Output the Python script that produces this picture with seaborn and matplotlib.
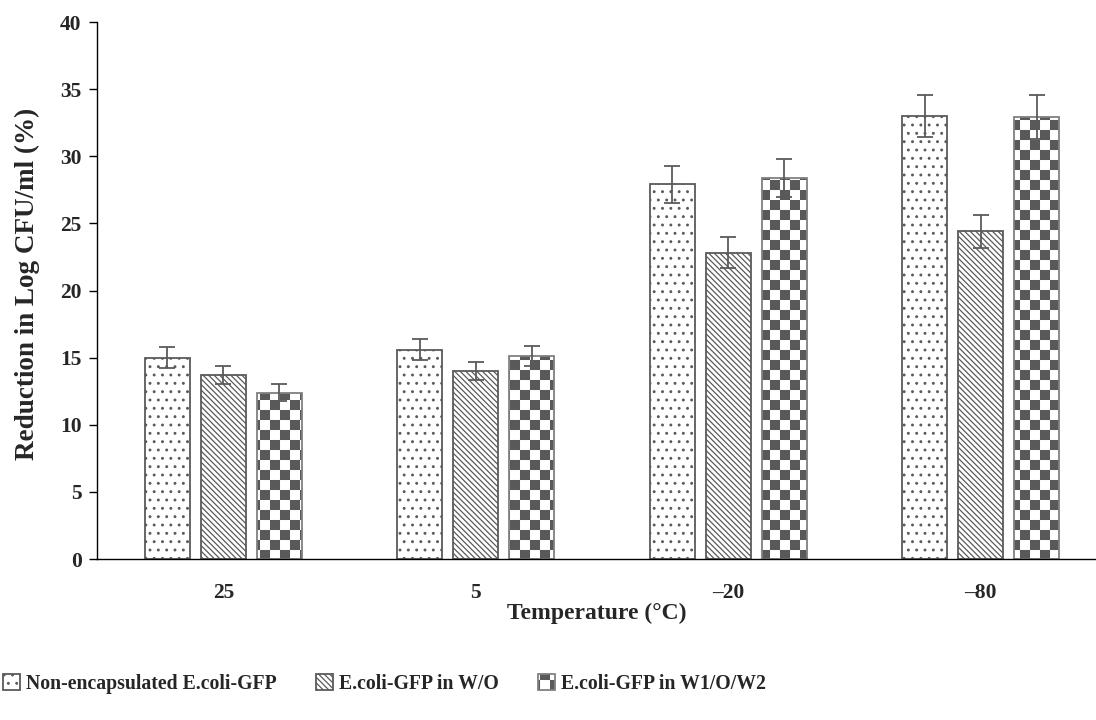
import matplotlib
matplotlib.use("Agg")
import matplotlib.pyplot as plt
import matplotlib.hatch as mhatch
from matplotlib.path import Path
import numpy as np
import pandas as pd
import seaborn as sns

# data
temperatures = ["25", "5", "\u201320", "\u201380"]
series_names = ["Non-encapsulated E.coli-GFP", "E.coli-GFP in W/O", "E.coli-GFP in W1/O/W2"]
non_encapsulated = [15.0, 15.6, 27.9, 33.0]
in_wo = [13.7, 14.0, 22.8, 24.4]
in_w1ow2 = [12.4, 15.1, 28.4, 32.9]
err_non_encapsulated = [0.8, 0.8, 1.4, 1.6]
err_wo = [0.65, 0.67, 1.15, 1.25]
err_w1ow2 = [0.6, 0.75, 1.4, 1.65]


class CheckerHatch(mhatch.HatchPatternBase):
    """checkerboard hatch, used for the '*' character"""
    filled = True

    def __init__(self, hatch, density):
        self.n = 10 if '*' in hatch else 0
        self.num_vertices = (self.n * self.n // 2) * 5

    def set_vertices_and_codes(self, vertices, codes):
        n = self.n
        s = 1.0 / n
        pad = 0.06 * s
        k = 0
        for i in range(n):
            for j in range(n):
                if (i + j) % 2:
                    continue
                x0, y0 = i * s + pad, j * s + pad
                x1, y1 = (i + 1) * s - pad, (j + 1) * s - pad
                vertices[k:k + 5] = [(x0, y0), (x1, y0), (x1, y1), (x0, y1), (x0, y0)]
                codes[k:k + 5] = [Path.MOVETO, Path.LINETO, Path.LINETO, Path.LINETO, Path.CLOSEPOLY]
                k += 5


mhatch._hatch_types = [t for t in mhatch._hatch_types if t is not mhatch.Stars] + [CheckerHatch]

df = pd.DataFrame({
    "Temperature": temperatures * 3,
    "Series": np.repeat(series_names, len(temperatures)),
    "Reduction": non_encapsulated + in_wo + in_w1ow2,
})
errors = [err_non_encapsulated, err_wo, err_w1ow2]

sns.set_theme(style="white")
plt.rcParams['font.family'] = ['Liberation Serif', 'DejaVu Serif']
plt.rcParams['font.weight'] = 'bold'
plt.rcParams['hatch.linewidth'] = 0.9

fig = plt.figure(figsize=(10.96, 7.2), dpi=100)
ax = fig.add_axes([0.0885, 0.2236, 0.9115, 0.7458])

sns.barplot(data=df, x="Temperature", y="Reduction", hue="Series",
            order=temperatures, hue_order=series_names,
            palette=["white"] * 3, width=0.665, gap=0.196,
            errorbar=None, legend=False, ax=ax)

# dots, dense diagonal lines, checkerboard
hatches = ["..", "\\" * 6, "*"]
edges = ["#5a5a5a", "#5a5a5a", "#808080"]
for cont, h, ec, err in zip(ax.containers, hatches, edges, errors):
    for bar in cont:
        bar.set_hatch(h)
        bar.set_edgecolor(ec)
        bar.set_linewidth(1.3)
    if h == "*":
        for bar in cont:
            bar._hatch_color = matplotlib.colors.to_rgba("#595959")
    xs = [b.get_x() + b.get_width() / 2 for b in cont]
    ys = [b.get_height() for b in cont]
    ax.errorbar(xs, ys, yerr=err, fmt="none", ecolor="#5a5a5a",
                elinewidth=1.3, capsize=6, capthick=1.3)

ax.set_ylim(0, 40)
ax.set_yticks(range(0, 41, 5))
ax.set_xlim(-0.5, 3.456)
ax.tick_params(axis="y", direction="out", length=6, width=1, color="black",
               labelsize=15.5, pad=5, left=True)
ax.tick_params(axis="x", length=0, labelsize=15.5, pad=17)
for lab in ax.get_xticklabels() + ax.get_yticklabels():
    lab.set_fontweight("bold")

ax.spines["top"].set_visible(False)
ax.spines["right"].set_visible(False)
ax.spines["left"].set_color("black")
ax.spines["bottom"].set_color("black")
ax.spines["left"].set_linewidth(1)
ax.spines["bottom"].set_linewidth(1)

ax.set_xlabel("Temperature (\u00b0C)", fontsize=17, fontweight="bold", labelpad=0)
ax.set_ylabel("Reduction in Log CFU/ml (%)", fontsize=19.5, fontweight="bold")
ax.yaxis.set_label_coords(-0.057, 0.513)

fig.legend(handles=ax.containers[:3], labels=series_names,
           loc="center", bbox_to_anchor=(0.351, 0.05), ncol=3, frameon=False,
           prop={"size": 14.2, "weight": "bold"},
           handlelength=0.85, handleheight=0.85, handletextpad=0.3, columnspacing=2.0)

fig.savefig("out.png", dpi=100)
